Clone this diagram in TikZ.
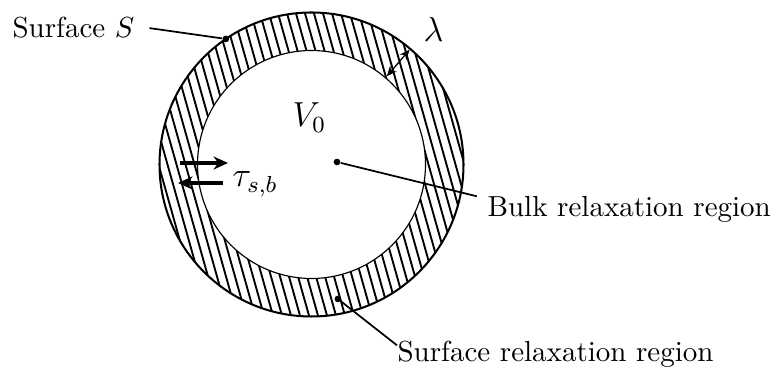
\documentclass[tikz,border=0pt]{standalone}
\usetikzlibrary{arrows.meta, calc}

\tikzset{
  lbl/.style={inner sep=0pt, anchor=base west},
  leader/.style={line width=0.6pt},
  blob/.style={circle, fill, inner sep=0pt, minimum size=2.3pt},
  hatch/.style={line width=0.65pt},
  flux/.style={line width=1.2pt, -{Stealth[length=5pt,width=4.5pt]}},
  gap/.style={line width=0.45pt, {Stealth[length=3.5pt,width=3pt]}-{Stealth[length=3.5pt,width=3pt]}}
}

\begin{document}
\begin{tikzpicture}[x=0.345pt, y=0.345pt]
  \useasboundingbox (0,0) rectangle (770,367);
  \coordinate (ctr) at (311.5,202.5);

  % hatched surface layer
  \begin{scope}[even odd rule]
    \clip (ctr) circle (152) (ctr) circle (114);
    \foreach \x in {-216,-207,...,216} {
      \draw[hatch] ($(ctr)+(\x-45,160)$) -- ($(ctr)+(\x+45,-160)$);
    }
  \end{scope}
  \draw[line width=0.7pt] (ctr) circle (152);
  \draw[line width=0.4pt] (ctr) circle (114);

  % thickness lambda
  \coordinate (lin) at ($(ctr)+(49.5:116)$);
  \coordinate (lout) at ($(ctr)+(49.5:151)$);
  \draw[gap] (lin) -- (lout);
  \node[lbl, font=\large] (lam) at (423,325) {$\lambda$};

  % surface S
  \node[blob] (sdot) at ($(ctr)+(124.3:152)$) {};
  \node[lbl] (surfS) at (12,329) {Surface $S$};
  \draw[leader] ([xshift=5pt]surfS.east) -- (sdot);

  % bulk
  \node[lbl, font=\large] (V0) at (292,240) {$V_0$};
  \node[blob] (cdot) at (337,205) {};
  \node[lbl] (bulk) at (487,150) {Bulk relaxation region};
  \draw[leader] (cdot) -- ([xshift=-3.5pt]bulk.north west);

  % surface region
  \node[blob] (rdot) at ($(ctr)+(-78.9:137)$) {};
  \node[lbl] (surfreg) at (397,5) {Surface relaxation region};
  \draw[leader] (rdot) -- ([yshift=-1.5pt]surfreg.north west);

  % exchange between surface and bulk
  \coordinate (t1a) at (180,204);
  \coordinate (t1b) at (228,204);
  \coordinate (t2a) at (223,184);
  \coordinate (t2b) at (178,184);
  \draw[flux] (t1a) -- (t1b);
  \draw[flux] (t2a) -- (t2b);
  \node[lbl, font=\large] (tau) at (232,180) {$\tau_{s,b}$};
\end{tikzpicture}
\end{document}
